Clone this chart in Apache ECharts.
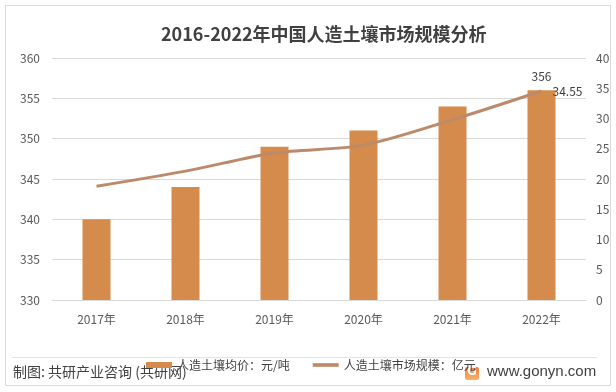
<!DOCTYPE html>
<html><head><meta charset="utf-8">
<script src="https://cdn.jsdelivr.net/npm/echarts@6/dist/echarts.min.js"></script>
<style>html,body{margin:0;padding:0;background:#fff}#c{width:616px;height:392px}</style>
</head><body><div id="c"></div>
<script>
const categories = ['2017年','2018年','2019年','2020年','2021年','2022年'];
const priceValues = [340, 344, 349, 351, 354, 356];
const scaleValues = [18.8, 21.3, 24.3, 25.6, 29.8, 34.55];
const leftTicks = [330, 360, 5];
const rightTicks = [0, 40, 5];
const titleText = '2016-2022年中国人造土壤市场规模分析';
const seriesNames = ['人造土壤均价：元/吨', '人造土壤市场规模：亿元'];
const sourceText = '制图: 共研产业咨询 (共研网)';
const siteText = 'www.gonyn.com';

const font = '"Noto Sans CJK SC", "Microsoft YaHei", sans-serif';
const chart = echarts.init(document.getElementById('c'), null, {renderer: 'canvas'});
const last = categories.length - 1;
chart.setOption({
  animation: false,
  backgroundColor: '#fff',
  textStyle: {fontFamily: font},
  title: {text: titleText, left: 156, top: 20,
    textStyle: {fontSize: 18, fontWeight: 'bold', color: '#404040', fontFamily: font}},
  grid: {left: 52, right: 30, top: 58, bottom: 92},
  legend: {
    top: 359, left: 146, itemGap: 23, itemWidth: 26, itemHeight: 6, padding: 0,
    textStyle: {fontSize: 12, color: '#404040', fontFamily: font},
    data: [{name: seriesNames[0], icon: 'rect'},
           {name: seriesNames[1], icon: 'path://M0,0 L10,0 L10,1.4 L0,1.4 Z'}]
  },
  xAxis: {type: 'category', data: categories,
    axisLine: {show: true, lineStyle: {color: '#d9d9d9'}}, axisTick: {show: false},
    axisLabel: {color: '#595959', fontSize: 12, margin: 13}},
  yAxis: [
    {type: 'value', min: leftTicks[0], max: leftTicks[1], interval: leftTicks[2],
     axisLine: {show: false}, axisTick: {show: false},
     splitLine: {lineStyle: {color: '#d9d9d9'}},
     axisLabel: {color: '#595959', fontSize: 12, margin: 12}},
    {type: 'value', min: rightTicks[0], max: rightTicks[1], interval: rightTicks[2],
     axisLine: {show: false}, axisTick: {show: false}, splitLine: {show: false},
     axisLabel: {color: '#595959', fontSize: 12, margin: 10}}
  ],
  series: [
    {name: seriesNames[0], type: 'bar', data: priceValues.map((v,i)=>({value:v,
       label:{show:i===last, position:'top', distance: 8, color:'#404040', fontSize: 12}})),
     barWidth: 28, itemStyle: {color: '#d58b4c'}},
    {name: seriesNames[1], type: 'line', yAxisIndex: 1, data: scaleValues.map((v,i)=>({value:v,
       label:{show:i===last, position:'right', distance: 11, color:'#404040', fontSize: 12}})),
     smooth: 0.3, symbol: 'circle', symbolSize: 0.1, showSymbol: true,
     labelLayout: {hideOverlap: false},
     lineStyle: {color: '#bc8a6a', width: 3},
     itemStyle: {color: '#bc8a6a'}}
  ],
  graphic: [
    {type: 'rect', shape: {x: 5.5, y: 5.5, width: 605, height: 380}, style: {fill: 'none', stroke: '#d9d9d9', lineWidth: 1}, silent: true},
    {type: 'line', shape: {x1: 12, y1: 357.5, x2: 597, y2: 357.5}, style: {stroke: '#e3e3e3', lineWidth: 1}},
    {type: 'text', left: 13, top: 365, style: {text: sourceText, fontSize: 14, fill: '#404040', fontFamily: font}},
    {type: 'rect', shape: {x: 465, y: 367, width: 14, height: 13, r: 2},
     style: {fill: new echarts.graphic.LinearGradient(0,0,0,1,[{offset:0,color:'#f27b3a'},{offset:1,color:'#f9b36b'}])}},
    {type: 'text', left: 467, top: 366, style: {text: 'G', fontSize: 12, fontWeight: 'bold', fill: '#fff', fontFamily: 'DejaVu Sans'}},
    {type: 'text', left: 487, top: 364, style: {text: siteText, fontSize: 15, fill: '#404040', fontFamily: 'Liberation Sans, Arial'}}
  ]
});
</script></body></html>
